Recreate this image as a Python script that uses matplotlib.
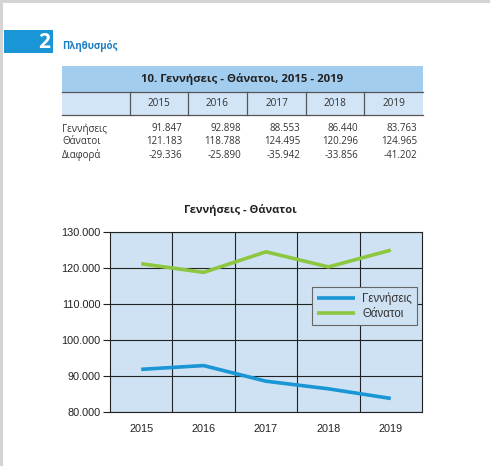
import matplotlib
matplotlib.use("Agg")
import matplotlib.pyplot as plt
from matplotlib.patches import Rectangle
from matplotlib.lines import Line2D
from matplotlib.ticker import FuncFormatter

years = ["2015", "2016", "2017", "2018", "2019"]
births = [91847, 92898, 88553, 86440, 83763]
deaths = [121183, 118788, 124495, 120296, 124965]
diff = [-29336, -25890, -35942, -33856, -41202]
row_labels = ["Γεννήσεις", "Θάνατοι", "Διαφορά"]
table_title = "10. Γεννήσεις - Θάνατοι, 2015 - 2019"
chart_title = "Γεννήσεις - Θάνατοι"
section_num = "2"
section_title = "Πληθυσμός"

W, H = 490, 466
fig = plt.figure(figsize=(W / 100, H / 100), dpi=100)
fig.patch.set_facecolor("white")

def fx(x):
    return x / W

def fy(y):
    return 1 - y / H

def rect(x0, y0, x1, y1, color, **kw):
    fig.patches.append(Rectangle((fx(x0), fy(y1)), fx(x1 - x0), (y1 - y0) / H,
                                 transform=fig.transFigure, facecolor=color,
                                 edgecolor="none", **kw))

def hline(x0, x1, y, color, lw):
    fig.lines.append(Line2D([fx(x0), fx(x1)], [fy(y), fy(y)], transform=fig.transFigure,
                            color=color, lw=lw))

def vline(x, y0, y1, color, lw):
    fig.lines.append(Line2D([fx(x), fx(x)], [fy(y0), fy(y1)], transform=fig.transFigure,
                            color=color, lw=lw))

fmt = lambda v: f"{v:,.0f}".replace(",", ".")

# page border
rect(0, 0, 3, H, "#d4d4d4")
rect(0, 0, W, 3, "#d4d4d4")

# section header
rect(4, 30, 53, 53, "#1a95d5")
fig.text(fx(50), fy(42), section_num, color="white", fontsize=15, fontweight="bold",
         family="Open Sans", ha="right", va="center")
fig.text(fx(62), fy(46), section_title, color="#1a7fc4", fontsize=7, fontweight="bold",
         family="Open Sans", ha="left", va="center")

# table
tx0, tx1 = 62, 423
rect(tx0, 66, tx1, 92, "#a3cdef")
rect(tx0, 92, tx1, 115, "#d2e5f6")
hline(tx0, tx1, 92, "#555555", 0.9)
hline(tx0, tx1, 115, "#555555", 0.9)
col_edges = [130, 188, 247, 306, 364, 423]
for x in col_edges[:-1]:
    vline(x, 92, 115, "#555555", 0.9)
fig.text(fx((tx0 + tx1) / 2), fy(79), table_title, fontsize=8.2, fontweight="bold",
         family="Open Sans", ha="center", va="center", color="#222222")
for i, yr in enumerate(years):
    cx = (col_edges[i] + col_edges[i + 1]) / 2
    fig.text(fx(cx), fy(103.5), yr, fontsize=7.2, family="Open Sans", ha="center",
             va="center", color="#333333")
rows = [births, deaths, diff]
row_y = [129, 142, 155]
for r, (lab, vals) in enumerate(zip(row_labels, rows)):
    fig.text(fx(62), fy(row_y[r]), lab, fontsize=7.0, family="Open Sans", ha="left",
             va="center", color="#333333")
    for i, v in enumerate(vals):
        fig.text(fx(col_edges[i + 1] - 6), fy(row_y[r]), fmt(v), fontsize=7.0,
                 family="Open Sans", ha="right", va="center", color="#333333")

# chart
fig.text(fx(240), fy(210), chart_title, fontsize=8, fontweight="bold",
         family="Open Sans", ha="center", va="center", color="#222222")
ax = fig.add_axes([fx(110), fy(412), fx(312), 180 / H])
ax.set_facecolor("#cfe2f3")
x = list(range(len(years)))
ax.plot(x, births, color="#1a95d5", lw=2.6, label="Γεννήσεις", solid_capstyle="butt")
ax.plot(x, deaths, color="#8dc63f", lw=2.6, label="Θάνατοι", solid_capstyle="butt")
ax.set_xlim(-0.5, len(years) - 0.5)
ax.set_ylim(80000, 130000)
ax.set_yticks(range(80000, 130001, 10000))
ax.yaxis.set_major_formatter(FuncFormatter(lambda v, p: fmt(v)))
ax.set_xticks(x)
ax.set_xticklabels(years)
ax.set_xticks([i + 0.5 for i in x[:-1]], minor=True)
ax.tick_params(axis="x", which="both", length=0, labelsize=7.8, pad=9, colors="#222222")
ax.tick_params(axis="y", length=5, width=0.8, labelsize=7.8, pad=2, colors="#222222")
for lab in ax.get_xticklabels() + ax.get_yticklabels():
    lab.set_family("Liberation Sans")
ax.grid(True, axis="y", which="major", color="#222222", lw=0.8)
ax.grid(True, axis="x", which="minor", color="#222222", lw=0.8)
ax.set_axisbelow(True)
for s in ax.spines.values():
    s.set_color("#222222")
    s.set_linewidth(0.8)
leg = ax.legend(loc="upper left", bbox_to_anchor=((312 - 110) / 312, (412 - 287) / 180),
                borderaxespad=0, frameon=True, fancybox=False, handlelength=3.3,
                borderpad=0.45, labelspacing=0.3, handletextpad=0.6,
                prop={"family": "Liberation Sans", "size": 8.3})
leg.get_frame().set_facecolor("#cfe2f3")
leg.get_frame().set_edgecolor("#666666")
leg.get_frame().set_linewidth(0.8)
leg.get_frame().set_alpha(1)
for t in leg.get_texts():
    t.set_color("#333333")

fig.savefig("out.png", dpi=100)
